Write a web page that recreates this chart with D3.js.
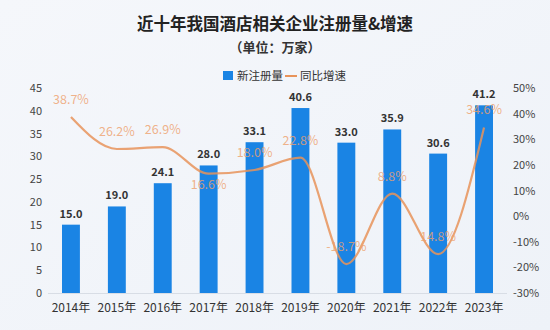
<!DOCTYPE html>
<html>
<head>
<meta charset="utf-8">
<script src="https://cdn.jsdelivr.net/npm/d3@7"></script>
<style>
html,body{margin:0;padding:0;}
body{width:550px;height:330px;overflow:hidden;}
</style>
</head>
<body>
<svg id="chart" width="550" height="330"></svg>
<script>
const years = ["2014年","2015年","2016年","2017年","2018年","2019年","2020年","2021年","2022年","2023年"];
const registrations = [15.0, 19.0, 24.1, 28.0, 33.1, 40.6, 33.0, 35.9, 30.6, 41.2];
const growth = [38.7, 26.2, 26.9, 16.6, 18.0, 22.8, -18.7, 8.8, -14.8, 34.6];
const growthLabels = ["38.7%","26.2%","26.9%","16.6%","18.0%","22.8%","-18.7%","8.8%","14.8%","34.6%"];
const leftTicks = [0,5,10,15,20,25,30,35,40,45];
const rightTicks = [-30,-20,-10,0,10,20,30,40,50];
const titleText = "近十年我国酒店相关企业注册量&增速";
const subtitleText = "（单位：万家）";
const legendLabels = ["新注册量","同比增速"];

const FONT = "'Noto Sans CJK SC','Noto Sans',sans-serif";
const barColor = "#1a84e4";
const lineColor = "#e8935a";
const svg = d3.select("#chart");

// background
const defs = svg.append("defs");
const grad = defs.append("linearGradient").attr("id","bg").attr("x1","0").attr("y1","0").attr("x2","1").attr("y2","1");
grad.append("stop").attr("offset","0%").attr("stop-color","#f5f7fb");
grad.append("stop").attr("offset","100%").attr("stop-color","#eef2f8");
svg.append("rect").attr("width",550).attr("height",330).attr("fill","url(#bg)");

const x = d3.scaleBand().domain(years).range([48, 507]).paddingInner(0.61).paddingOuter(0.305);
const yL = d3.scaleLinear().domain([0,45]).range([293, 88]);
const yR = d3.scaleLinear().domain([-30,50]).range([293, 88]);

// title
svg.append("text").attr("x",275).attr("y",30).attr("text-anchor","middle")
  .attr("font-family",FONT).attr("font-weight","bold").attr("font-size",16.5).attr("fill","#222")
  .text(titleText);
svg.append("text").attr("x",275).attr("y",52).attr("text-anchor","middle")
  .attr("font-family",FONT).attr("font-weight","bold").attr("font-size",13).attr("fill","#333")
  .text(subtitleText);

// legend
const lg = svg.append("g").attr("font-family",FONT).attr("font-size",11.5).attr("fill","#333");
lg.append("rect").attr("x",223).attr("y",71).attr("width",10).attr("height",9).attr("fill",barColor);
lg.append("text").attr("x",237).attr("y",79.5).text(legendLabels[0]);
lg.append("line").attr("x1",285).attr("x2",297).attr("y1",76).attr("y2",76).attr("stroke",lineColor).attr("stroke-width",2);
lg.append("text").attr("x",300).attr("y",79.5).text(legendLabels[1]);

// baseline
svg.append("line").attr("x1",48).attr("x2",507).attr("y1",yL(0)+0.5).attr("y2",yL(0)+0.5)
  .attr("stroke","#d8dde5").attr("stroke-width",1);

// left axis
const axL = svg.append("g").attr("transform","translate(44,0)")
  .call(d3.axisLeft(yL).tickValues(leftTicks).tickSize(0).tickPadding(2));
axL.select(".domain").remove();
axL.selectAll("text").attr("font-family",FONT).attr("font-size",11).attr("fill","#444");

// right axis
const axR = svg.append("g").attr("transform","translate(511,0)")
  .call(d3.axisRight(yR).tickValues(rightTicks).tickSize(0).tickPadding(2).tickFormat(d => d + "%"));
axR.select(".domain").remove();
axR.selectAll("text").attr("font-family",FONT).attr("font-size",11).attr("fill","#444");

// x axis
const axX = svg.append("g").attr("transform",`translate(0,${yL(0)})`)
  .call(d3.axisBottom(x).tickSize(0).tickPadding(10));
axX.select(".domain").remove();
axX.selectAll("text").attr("font-family",FONT).attr("font-size",12).attr("fill","#333");

// bars
svg.append("g").selectAll("rect").data(registrations).join("rect")
  .attr("x",(d,i)=>x(years[i])).attr("width",x.bandwidth())
  .attr("y",d=>yL(d)).attr("height",d=>yL(0)-yL(d)).attr("fill",barColor);

svg.append("g").selectAll("text").data(registrations).join("text")
  .attr("x",(d,i)=>x(years[i])+x.bandwidth()/2).attr("y",d=>yL(d)-7)
  .attr("text-anchor","middle").attr("font-family",FONT).attr("font-size",11).attr("font-weight","bold")
  .attr("fill","#333").text(d=>d.toFixed(1));

// line
const line = d3.line().x((d,i)=>x(years[i])+x.bandwidth()/2).y(d=>yR(d)).curve(d3.curveMonotoneX);
svg.append("path").datum(growth).attr("d",line).attr("fill","none")
  .attr("stroke",lineColor).attr("stroke-width",2.2).attr("stroke-opacity",0.85);

svg.append("g").selectAll("text").data(growth).join("text")
  .attr("x",(d,i)=>x(years[i])+x.bandwidth()/2)
  .attr("y",(d,i)=> i===3 ? yR(d)+15 : yR(d)-13)
  .attr("text-anchor","middle").attr("font-family",FONT).attr("font-size",12.5)
  .attr("fill","#eea06c").attr("fill-opacity",0.8).text((d,i)=>growthLabels[i]);
</script>
</body>
</html>
